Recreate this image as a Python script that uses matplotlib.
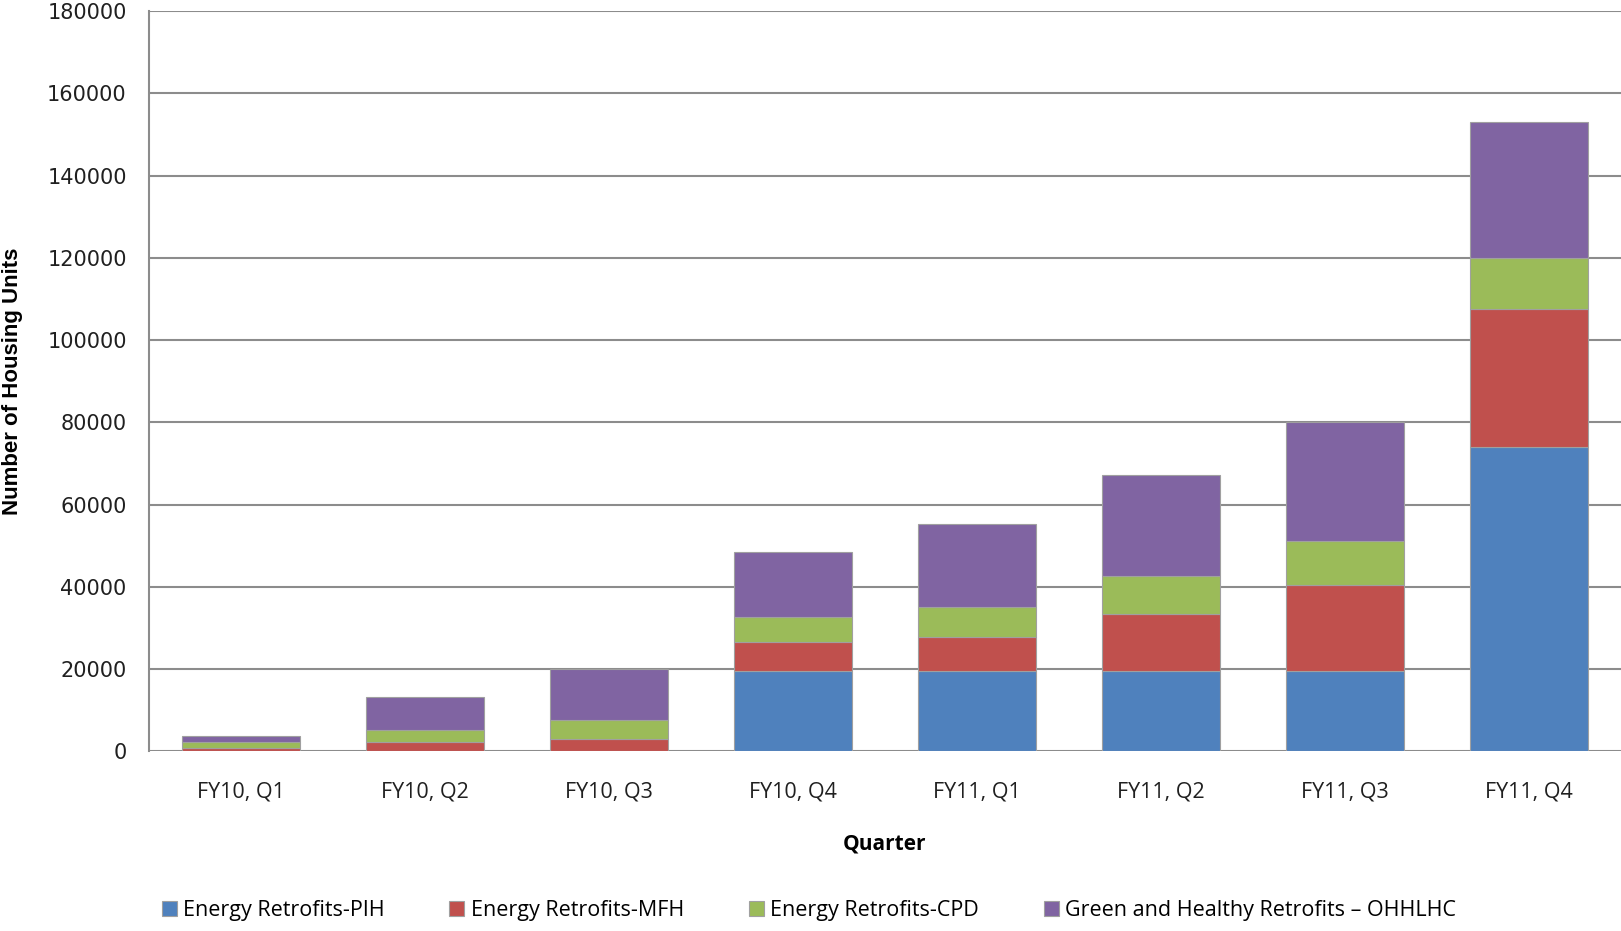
import matplotlib
matplotlib.use("Agg")
import matplotlib.pyplot as plt
import numpy as np

categories = ["FY10, Q1", "FY10, Q2", "FY10, Q3", "FY10, Q4",
              "FY11, Q1", "FY11, Q2", "FY11, Q3", "FY11, Q4"]
series_names = ["Energy Retrofits-PIH", "Energy Retrofits-MFH",
                "Energy Retrofits-CPD", "Green and Healthy Retrofits \u2013 OHHLHC"]
pih    = [0, 0, 0, 19500, 19500, 19500, 19500, 73900]
mfh    = [900, 2200, 3000, 7200, 8200, 14000, 20950, 33600]
cpd    = [1450, 2900, 4500, 5950, 7300, 9250, 10750, 12400]
ohhlhc = [1400, 8200, 12400, 15800, 20350, 24500, 28800, 33100]
colors = ["#4F81BD", "#C0504D", "#9BBB59", "#8064A2"]
yticks = [0, 20000, 40000, 60000, 80000, 100000, 120000, 140000, 160000, 180000]

fig = plt.figure(figsize=(16.21, 9.31), dpi=100)
ax = fig.add_axes([0.0919, 0.193, 0.9081, 0.795])

x = np.arange(len(categories))
bottom = np.zeros(len(categories))
for vals, name, c in zip([pih, mfh, cpd, ohhlhc], series_names, colors):
    v = np.array(vals, dtype=float)
    ax.bar(x, v, width=0.64, bottom=bottom, color=c, label=name,
           edgecolor="#a0a0a0", linewidth=0.8, zorder=3)
    bottom += v

ax.set_xlim(-0.5, len(categories) - 0.5)
ax.set_ylim(0, 180000)
ax.set_yticks(yticks)
ax.set_yticklabels([str(t) for t in yticks], fontsize=15, family="DejaVu Sans", color="#202020")
ax.set_xticks(x)
ax.set_xticklabels(categories, fontsize=15.5, family=["Open Sans", "DejaVu Sans"], color="#202020")
ax.tick_params(axis="both", length=0)
ax.tick_params(axis="y", pad=16)
ax.tick_params(axis="x", pad=22)
ax.yaxis.grid(True, color="#8c8c8c", linewidth=1.5, zorder=0)
ax.set_axisbelow(True)
for s in ["top", "right", "bottom"]:
    ax.spines[s].set_visible(False)
ax.spines["left"].set_color("#8c8c8c")
ax.spines["left"].set_linewidth(1.5)

ax.set_xlabel("Quarter", fontsize=15, fontweight="bold",
              family=["Open Sans", "DejaVu Sans"], labelpad=22)
ax.set_ylabel("Number of Housing Units", fontsize=16, fontweight="bold",
              family=["Liberation Sans", "DejaVu Sans"])
ax.yaxis.set_label_coords(-0.0856, 0.5)

fig.legend(loc="center", bbox_to_anchor=(0.499, 0.022), ncol=4, frameon=False,
           prop={"family": ["Open Sans", "DejaVu Sans"], "size": 15.5},
           handlelength=0.7, handleheight=0.7, handletextpad=0.3, columnspacing=3.0)

fig.savefig("out.png", dpi=100)
